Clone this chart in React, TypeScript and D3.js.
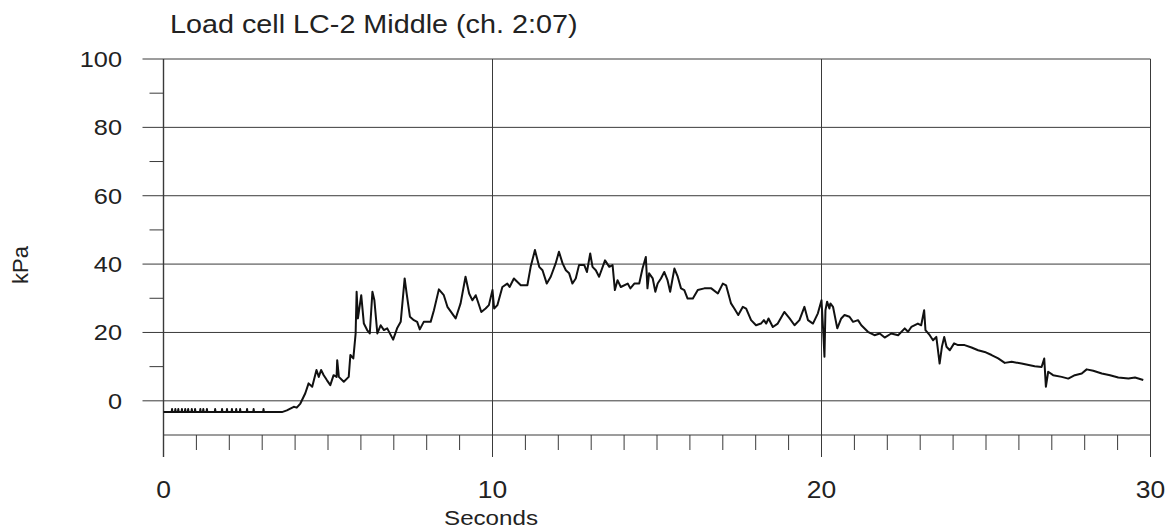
import React from "react";
import * as d3 from "d3";

const title = "Load cell LC-2 Middle (ch. 2:07)";
const yLabel = "kPa";
const xLabel = "Seconds";
const xMajorTicks = [0, 10, 20, 30];
const yMajorTicks = [0, 20, 40, 60, 80, 100];
const yMinorTicks = [10, 30, 50, 70, 90];
const xMinorTicks = d3.range(1, 30).filter((d) => d % 10 !== 0);

// Quiet baseline before the load arrives, with small spikes
const baselineSpikes = [0.26, 0.36, 0.45, 0.56, 0.66, 0.75, 0.86, 0.96, 1.12, 1.21, 1.32, 1.57, 1.78, 1.93, 2.08, 2.21, 2.33, 2.54, 2.74, 3.04];
const baselineLevel = -3.3;
const spikeLevel = -2.4;

const seconds = [
  3.6, 3.75, 3.96, 4.05, 4.16, 4.31, 4.41, 4.52, 4.65, 4.72, 4.79, 4.87, 4.97, 5.07, 5.17, 5.26, 5.28, 5.33, 5.48, 5.63,
  5.68, 5.77, 5.84, 5.87, 5.91, 6.01, 6.09, 6.19, 6.27, 6.35, 6.41, 6.5, 6.6, 6.7, 6.8, 6.98, 7.1, 7.21, 7.33, 7.39,
  7.49, 7.61, 7.71, 7.79, 7.91, 8.12, 8.22, 8.37, 8.52, 8.63, 8.88, 9.03, 9.18, 9.29, 9.39, 9.49, 9.56, 9.66, 9.79, 9.89,
  10.0, 10.05, 10.15, 10.3, 10.45, 10.52, 10.65, 10.86, 11.06, 11.16, 11.29, 11.42, 11.52, 11.65, 11.77, 11.92, 12.02, 12.13, 12.23, 12.33,
  12.43, 12.53, 12.63, 12.79, 12.87, 12.97, 13.04, 13.14, 13.24, 13.42, 13.55, 13.65, 13.72, 13.8, 13.9, 14.11, 14.19, 14.31, 14.46, 14.56,
  14.66, 14.71, 14.76, 14.87, 14.95, 15.02, 15.12, 15.22, 15.32, 15.4, 15.53, 15.63, 15.73, 15.83, 15.93, 16.09, 16.24, 16.44, 16.65, 16.85,
  17.0, 17.1, 17.25, 17.35, 17.47, 17.61, 17.71, 17.86, 18.01, 18.16, 18.25, 18.32, 18.39, 18.52, 18.67, 18.87, 19.03, 19.18, 19.33, 19.48,
  19.59, 19.74, 19.89, 20.0, 20.05, 20.09, 20.12, 20.17, 20.24, 20.27, 20.35, 20.48, 20.6, 20.7, 20.85, 20.96, 21.11, 21.21, 21.41, 21.61,
  21.77, 21.92, 22.12, 22.33, 22.53, 22.63, 22.73, 22.93, 23.03, 23.12, 23.16, 23.29, 23.39, 23.49, 23.54, 23.59, 23.66, 23.73, 23.8, 23.9,
  24.03, 24.15, 24.35, 24.56, 24.76, 24.96, 25.17, 25.37, 25.57, 25.78, 26.08, 26.48, 26.69, 26.77, 26.82, 26.89, 27.04, 27.3, 27.5, 27.7,
  27.91, 28.06, 28.26, 28.52, 28.77, 29.02, 29.33, 29.53, 29.78,
];

const kPa = [
  -3.3, -2.8, -1.75, -2.0, -0.8, 2.2, 5.1, 4.1, 9.0, 7.0, 9.0, 7.5, 6.0, 4.6, 7.5, 7.0, 11.9, 7.0, 5.6, 7.0,
  13.4, 12.4, 19.7, 31.9, 24.1, 30.9, 22.6, 20.7, 19.7, 31.9, 29.4, 19.7, 22.1, 20.7, 21.2, 17.9, 21.2, 23.1, 35.8, 31.4,
  24.6, 23.6, 23.1, 20.9, 23.1, 23.1, 26.5, 32.6, 30.9, 27.5, 24.1, 28.5, 36.3, 31.4, 29.4, 30.9, 28.9, 26.0, 27.0, 28.0,
  32.4, 27.0, 28.0, 33.3, 34.3, 33.3, 35.8, 33.8, 33.8, 39.2, 44.1, 39.2, 38.2, 34.3, 36.3, 40.2, 43.6, 40.2, 38.2, 37.3,
  34.3, 35.8, 39.7, 39.7, 37.7, 43.1, 39.2, 38.2, 36.3, 41.1, 39.2, 39.7, 32.4, 35.3, 33.3, 34.3, 32.9, 34.3, 34.3, 38.7,
  42.1, 32.9, 37.3, 35.8, 31.9, 34.3, 35.8, 37.7, 35.3, 31.9, 38.7, 36.3, 32.9, 32.4, 29.9, 29.9, 32.4, 32.9, 32.9, 31.4,
  34.3, 33.8, 28.5, 27.0, 25.1, 27.5, 27.0, 23.6, 22.1, 22.6, 23.6, 22.6, 24.1, 21.6, 22.6, 26.0, 24.1, 22.1, 23.6, 27.5,
  23.6, 22.6, 25.6, 29.4, 20.7, 12.9, 26.5, 29.0, 27.0, 28.5, 27.5, 21.2, 24.1, 25.1, 24.6, 23.1, 23.6, 22.1, 20.2, 19.2,
  19.7, 18.5, 19.7, 19.2, 21.2, 20.2, 21.6, 22.6, 22.1, 26.5, 20.7, 19.2, 17.7, 18.7, 14.8, 10.9, 15.8, 18.7, 15.8, 14.8,
  16.8, 16.3, 16.3, 15.6, 14.8, 14.3, 13.4, 12.4, 11.1, 11.4, 10.9, 10.1, 9.9, 12.4, 4.1, 8.5, 7.5, 7.0, 6.5, 7.5,
  8.0, 9.2, 8.8, 8.0, 7.5, 6.8, 6.5, 6.8, 6.1,
];

const W = 1174;
const H = 532;
const FONT = "'Liberation Sans', Arial, sans-serif";
const SX = 1.15; // the source picture is stretched horizontally

export default function App() {
  const x = d3.scaleLinear().domain([0, 30]).range([163.5, 1150.5]);
  const y = d3.scaleLinear().domain([-10, 100]).range([435, 59]);

  const pts: [number, number][] = [[0, baselineLevel]];
  baselineSpikes.forEach((t) => {
    pts.push([t - 0.012, baselineLevel], [t, spikeLevel], [t + 0.012, baselineLevel]);
  });
  seconds.forEach((t, i) => pts.push([t, kPa[i]]));

  const line = d3
    .line<[number, number]>()
    .x((d) => x(d[0]))
    .y((d) => y(d[1]));

  const gridColor = "#3a3a3a";
  const x0 = x(0);
  const x1 = x(30);
  const yTop = y(100);
  const yBottom = y(-10);
  const yTickEnd = yBottom + 22;

  return (
    <svg width={W} height={H} style={{ display: "block", background: "#fff" }}>
      <style>{`body{margin:0}`}</style>
      <rect x={0} y={0} width={W} height={H} fill="#fff" />
      {yMajorTicks.map((v) => (
        <line key={"hy" + v} x1={x0 - 21} x2={x1} y1={y(v)} y2={y(v)} stroke={gridColor} strokeWidth={1} />
      ))}
      {yMinorTicks.map((v) => (
        <line key={"my" + v} x1={x0 - 14} x2={x0} y1={y(v)} y2={y(v)} stroke={gridColor} strokeWidth={1} />
      ))}
      <line x1={x0} x2={x1} y1={yBottom} y2={yBottom} stroke={gridColor} strokeWidth={1} />
      {xMajorTicks.map((t) => (
        <line key={"vx" + t} x1={x(t)} x2={x(t)} y1={yTop} y2={yTickEnd} stroke={gridColor} strokeWidth={t === 0 ? 1.4 : 1} />
      ))}
      {xMinorTicks.map((t) => (
        <line key={"mx" + t} x1={x(t)} x2={x(t)} y1={yBottom} y2={yBottom + 15} stroke={gridColor} strokeWidth={1} />
      ))}
      <path d={line(pts) || ""} fill="none" stroke="#111" strokeWidth={2} strokeLinejoin="round" />
      {yMajorTicks.map((v) => (
        <text key={"ly" + v} transform={`translate(122,${y(v)}) scale(${SX},1)`} dy="0.36em" textAnchor="end" fontFamily={FONT} fontSize={22} fill="#222">
          {v}
        </text>
      ))}
      {xMajorTicks.map((t) => (
        <text key={"lx" + t} transform={`translate(${x(t)},498) scale(${SX},1)`} textAnchor="middle" fontFamily={FONT} fontSize={23} fill="#222">
          {t}
        </text>
      ))}
      <text transform={`translate(491,525) scale(${SX},1)`} textAnchor="middle" fontFamily={FONT} fontSize={21} fill="#222">
        {xLabel}
      </text>
      <text transform={`translate(28,265) rotate(-90)`} textAnchor="middle" fontFamily={FONT} fontSize={22} fill="#222">
        {yLabel}
      </text>
      <text transform={`translate(170,33) scale(${SX},1)`} fontFamily={FONT} fontSize={25} fill="#222">
        {title}
      </text>
    </svg>
  );
}
